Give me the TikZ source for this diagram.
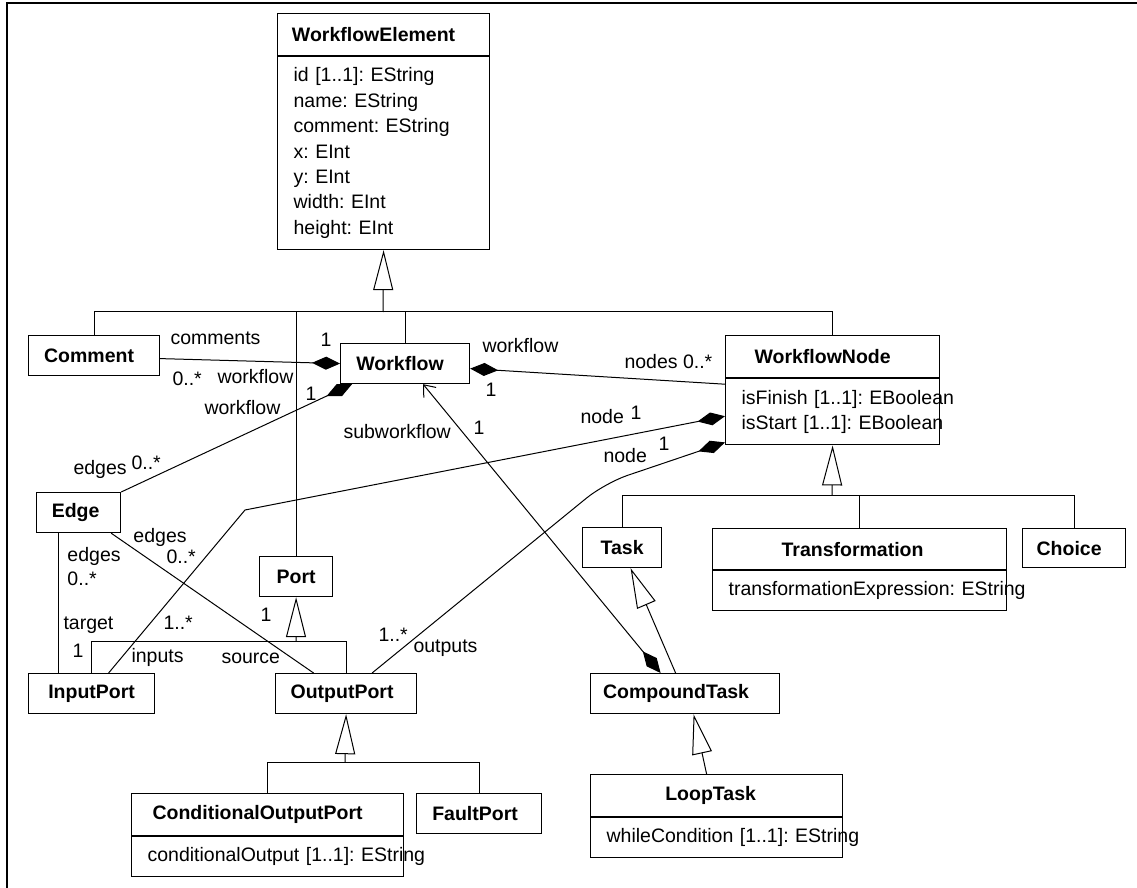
\documentclass[tikz,border=0pt]{standalone}
\usepackage{fontspec}
\setmainfont{Liberation Sans}
\usetikzlibrary{arrows.meta}

\tikzset{
  cls/.style={draw, line width=0.6pt, anchor=north west, inner sep=0pt, font=\fontsize{9.75}{12}\selectfont\bfseries},
  attr/.style={draw, line width=0.6pt, anchor=north west, inner xsep=8pt, inner ysep=0pt, align=left},
  lbl/.style={anchor=west, inner sep=0pt},
  tshift/.style={execute at end node={\hspace*{#1}}},
  gen/.style={-{Triangle[open, length=20pt, width=10pt]}},
  comp/.style={{Diamond[length=14pt, width=6.5pt]}-},
}

\begin{document}
\frenchspacing
\begin{tikzpicture}[x=0.5pt,y=-0.5pt,line width=0.5pt,font=\fontsize{9.75}{12.7}\selectfont]
  \useasboundingbox (0,0) rectangle (1137,888);
  % frame
  \draw[line width=0.8pt] (7,888) -- (7,3) -- (1137,3);

  % Classes
  \node[cls, tshift=10pt, minimum width=106pt, minimum height=20.85pt] (wfe) at (277,13) {WorkflowElement};
  \node[attr, text width=90pt, minimum height=96.5pt] (wfeattr) at (wfe.south west)
    {id [1..1]: EString\\name: EString\\comment: EString\\x: EInt\\y: EInt\\width: EInt\\height: EInt};
  \node[cls, tshift=5pt, minimum width=65.5pt, minimum height=20pt] (comment) at (28,335) {Comment};
  \node[cls, tshift=5pt, minimum width=64.5pt, minimum height=20pt] (workflow) at (340,343) {Workflow};
  \node[cls, tshift=10pt, minimum width=107pt, minimum height=21pt] (wfnode) at (725,335) {WorkflowNode};
  \node[attr, text width=91pt, minimum height=33pt] (wfnattr) at (wfnode.south west)
    {\mbox{isFinish [1..1]: EBoolean}\\\mbox{isStart [1..1]: EBoolean}};
  \node[cls, tshift=3pt, minimum width=42pt, minimum height=20pt] (edge) at (36,492) {Edge};
  \node[cls, minimum width=36.5pt, minimum height=20pt] (port) at (259,556) {Port};
  \node[cls, minimum width=63pt, minimum height=20pt] (inport) at (28,673) {InputPort};
  \node[cls, tshift=4pt, minimum width=70.5pt, minimum height=20pt] (outport) at (275,673) {OutputPort};
  \node[cls, minimum width=39.5pt, minimum height=20pt] (task) at (582,527) {Task};
  \node[cls, tshift=7pt, minimum width=147pt, minimum height=20.5pt] (trans) at (712,528) {Transformation};
  \node[attr, text width=131pt, minimum height=20pt] (transattr) at (trans.south west)
    {\mbox{transformationExpression: EString}};
  \node[cls, tshift=5pt, minimum width=51.5pt, minimum height=19.5pt] (choice) at (1022,528) {Choice};
  \node[cls, tshift=9pt, minimum width=94.5pt, minimum height=20pt] (ctask) at (590,673) {CompoundTask};
  \node[cls, tshift=6pt, minimum width=126pt, minimum height=21pt] (loop) at (590,774) {LoopTask};
  \node[attr, text width=110pt, minimum height=20pt] (loopattr) at (loop.south west)
    {\mbox{whileCondition [1..1]: EString}};
  \node[cls, tshift=10pt, minimum width=136pt, minimum height=21pt] (cond) at (131,793) {ConditionalOutputPort};
  \node[attr, text width=120pt, minimum height=20pt] (condattr) at (cond.south west)
    {\mbox{conditionalOutput [1..1]: EString}};
  \node[cls, tshift=4pt, minimum width=62.5pt, minimum height=20pt] (fault) at (416,793) {FaultPort};

  % Generalizations
  \coordinate (busA) at (383,312);
  \draw[gen] (busA) -- (wfeattr.south);
  \draw (comment.north) |- (wfnode.north |- busA) -- (wfnode.north);
  \draw (port.north) -- (port.north |- busA);
  \draw (workflow.north) -- (workflow.north |- busA);

  \coordinate (busB) at (832,495);
  \draw[gen] (busB) -- (wfnattr.south);
  \draw (task.north) |- (choice.north |- busB) -- (choice.north);
  \draw (trans.north) -- (trans.north |- busB);

  \coordinate (busC) at (296,641);
  \draw[gen] (busC) -- (port.south);
  \draw (inport.north) |- (outport.north |- busC) -- (outport.north);

  \coordinate (busD) at (345,762);
  \draw[gen] (busD) -- (outport.south);
  \draw (cond.north) |- (fault.north |- busD) -- (fault.north);

  \draw[gen] ([xshift=-4.75pt]ctask.north) -- ([xshift=4.25pt]task.south);
  \draw[gen] ([xshift=-5pt]loop.north) -- ([xshift=4.25pt]ctask.south);

  % Compositions and associations
  \draw[comp] (workflow.west) -- ([yshift=-1.5pt]comment.east);
  \draw[comp] ([xshift=6pt]workflow.south west) -- (edge.north east);
  \draw[comp] ([yshift=-2.5pt]workflow.east) -- ([yshift=-3pt]wfnattr.north west);
  \draw[comp] ([yshift=-19pt]wfnattr.north west) -- (245,510) -- ([xshift=8.5pt]inport.north);
  \draw[comp, rounded corners=12pt] ([yshift=1.5pt]wfnattr.south west) -- (605,483) -- ([xshift=13pt]outport.north);
  \draw[{Diamond[length=14pt, width=6.5pt]}-{Straight Barb[length=5pt, width=8pt]}]
    ([xshift=-12.25pt]ctask.north) -- ([xshift=9pt]workflow.south);
  \draw ([xshift=11pt]edge.south west) -- ([xshift=15pt]inport.north west);
  \draw ([xshift=-5pt]edge.south east) -- ([xshift=-16.25pt]outport.north);

  % Role names and multiplicities
  \node[lbl] (l1) at (170,338) {comments};
  \node[lbl] (l2) at (320,340) {1};
  \node[lbl] (l3) at (172,379) {0..*};
  \node[lbl] (l4) at (217,377) {workflow};
  \node[lbl] (l5) at (204,408) {workflow};
  \node[lbl] (l6) at (305,394) {1};
  \node[lbl] (l7) at (73,469) {edges};
  \node[lbl] (l8) at (131,463) {0..*};
  \node[lbl] (l9) at (482,346) {workflow};
  \node[lbl] (l10) at (485,390) {1};
  \node[lbl] (l11) at (624,362) {nodes 0..*};
  \node[lbl] (l12) at (343,432) {subworkflow};
  \node[lbl] (l13) at (473,428) {1};
  \node[lbl] (l14) at (580,417) {node};
  \node[lbl] (l15) at (630,413) {1};
  \node[lbl] (l16) at (603,456) {node};
  \node[lbl] (l17) at (658,444) {1};
  \node[lbl] (l18) at (67,556) {edges};
  \node[lbl] (l19) at (67,579) {0..*};
  \node[lbl] (l20) at (63,625) {target};
  \node[lbl] (l21) at (72,651) {1};
  \node[lbl] (l22) at (133,537) {edges};
  \node[lbl] (l23) at (166,557) {0..*};
  \node[lbl] (l24) at (260,615) {1};
  \node[lbl] (l25) at (221,658) {source};
  \node[lbl] (l26) at (163,623) {1..*};
  \node[lbl] (l27) at (131,657) {inputs};
  \node[lbl] (l28) at (378,635) {1..*};
  \node[lbl] (l29) at (413,648) {outputs};
\end{tikzpicture}
\end{document}
